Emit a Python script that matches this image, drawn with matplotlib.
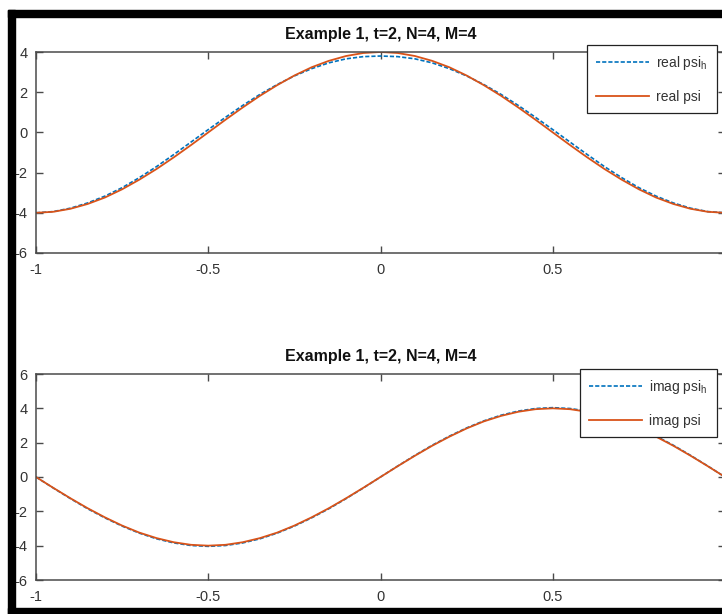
import matplotlib
matplotlib.use("Agg")
import matplotlib.pyplot as plt
from matplotlib.patches import Rectangle

plt.rcParams['font.family'] = ['Liberation Sans', 'DejaVu Sans']

# sample positions read along the x axis
x_vals = [-1.00, -0.95, -0.90, -0.85, -0.80, -0.75, -0.70, -0.65, -0.60, -0.55,
          -0.50, -0.45, -0.40, -0.35, -0.30, -0.25, -0.20, -0.15, -0.10, -0.05,
          0.00, 0.05, 0.10, 0.15, 0.20, 0.25, 0.30, 0.35, 0.40, 0.45,
          0.50, 0.55, 0.60, 0.65, 0.70, 0.75, 0.80, 0.85, 0.90, 0.95, 1.00]

real_psi_h = [-4.00, -3.94, -3.77, -3.51, -3.17, -2.75, -2.25, -1.70, -1.10, -0.48,
              0.14, 0.75, 1.34, 1.89, 2.38, 2.81, 3.17, 3.46, 3.66, 3.77,
              3.80, 3.77, 3.66, 3.46, 3.17, 2.81, 2.38, 1.89, 1.34, 0.75,
              0.14, -0.48, -1.10, -1.70, -2.25, -2.75, -3.17, -3.51, -3.77, -3.94, -4.00]
real_psi = [-4.00, -3.95, -3.80, -3.56, -3.24, -2.83, -2.35, -1.82, -1.24, -0.63,
            0.00, 0.63, 1.24, 1.82, 2.35, 2.83, 3.24, 3.56, 3.80, 3.95,
            4.00, 3.95, 3.80, 3.56, 3.24, 2.83, 2.35, 1.82, 1.24, 0.63,
            0.00, -0.63, -1.24, -1.82, -2.35, -2.83, -3.24, -3.56, -3.80, -3.95, -4.00]

imag_psi_h = [0.00, -0.64, -1.26, -1.85, -2.38, -2.86, -3.27, -3.60, -3.84, -3.99,
              -4.04, -3.99, -3.84, -3.60, -3.27, -2.86, -2.38, -1.85, -1.26, -0.64,
              0.00, 0.64, 1.26, 1.85, 2.38, 2.86, 3.27, 3.60, 3.84, 3.99,
              4.04, 3.99, 3.84, 3.60, 3.27, 2.86, 2.38, 1.85, 1.26, 0.64, 0.00]
imag_psi = [0.00, -0.63, -1.24, -1.82, -2.35, -2.83, -3.24, -3.56, -3.80, -3.95,
            -4.00, -3.95, -3.80, -3.56, -3.24, -2.83, -2.35, -1.82, -1.24, -0.63,
            0.00, 0.63, 1.24, 1.82, 2.35, 2.83, 3.24, 3.56, 3.80, 3.95,
            4.00, 3.95, 3.80, 3.56, 3.24, 2.83, 2.35, 1.82, 1.24, 0.63, 0.00]

title_text = "Example 1, t=2, N=4, M=4"
x_ticks = [-1, -0.5, 0, 0.5, 1]
x_ticklabels = ["-1", "-0.5", "0", "0.5", "1"]

BLUE = "#0072BD"
ORANGE = "#D95319"
AX_COL = "#4a4a4a"
TXT_COL = "#333333"

W, H = 722, 614
fig = plt.figure(figsize=(W / 100, H / 100), dpi=100)


def px_axes(left, top, right, bottom):
    return fig.add_axes([left / W, 1 - bottom / H, (right - left) / W, (bottom - top) / H])


def style(ax, ylim, yticks):
    ax.set_xlim(-1, 1)
    ax.set_ylim(*ylim)
    ax.set_xticks(x_ticks)
    ax.set_xticklabels(x_ticklabels)
    ax.set_yticks(yticks)
    ax.set_yticklabels([str(t) for t in yticks])
    ax.tick_params(direction="in", length=5, width=1.0, color=AX_COL,
                   labelsize=10.5, labelcolor=TXT_COL,
                   top=True, right=True)
    ax.tick_params(axis="x", pad=7)
    ax.tick_params(axis="y", pad=6)
    for s in ax.spines.values():
        s.set_color(AX_COL)
        s.set_linewidth(1.1)
    ax.set_title(title_text, fontsize=11.5, fontweight="bold", color="#111111", pad=9)


def legend(ax, right, top):
    leg = ax.legend(loc="upper right", bbox_to_anchor=(right / W, 1 - top / H),
                    bbox_transform=fig.transFigure, borderaxespad=0,
                    fontsize=10, frameon=True, fancybox=False, framealpha=1,
                    handlelength=3.8, handletextpad=0.55, labelspacing=1.3,
                    borderpad=0.65)
    leg.get_frame().set_edgecolor("#222222")
    leg.get_frame().set_linewidth(0.9)
    for t in leg.get_texts():
        t.set_color(TXT_COL)


ax1 = px_axes(36, 52, 725, 253)
ax1.plot(x_vals, real_psi_h, color=BLUE, lw=1.2, dashes=(2.5, 1.2), label="real psi$_\\mathregular{h}$")
ax1.plot(x_vals, real_psi, color=ORANGE, lw=1.3, label="real psi")
style(ax1, (-6, 4), [-6, -4, -2, 0, 2, 4])
legend(ax1, 717, 45)

ax2 = px_axes(36, 374, 725, 580)
ax2.plot(x_vals, imag_psi_h, color=BLUE, lw=1.2, dashes=(2.5, 1.2), label="imag psi$_\\mathregular{h}$")
ax2.plot(x_vals, imag_psi, color=ORANGE, lw=1.3, label="imag psi")
style(ax2, (-6, 6), [-6, -4, -2, 0, 2, 4, 6])
legend(ax2, 717, 369)

# black screenshot frame around the figure
frame = [(8, 10, 722, 17), (8, 10, 15, 614), (8, 608, 722, 614)]
for l, t, r, b in frame:
    fig.patches.append(Rectangle((l / W, 1 - b / H), (r - l) / W, (b - t) / H,
                                 transform=fig.transFigure, color="black", zorder=10))

fig.savefig("out.png", dpi=100)
